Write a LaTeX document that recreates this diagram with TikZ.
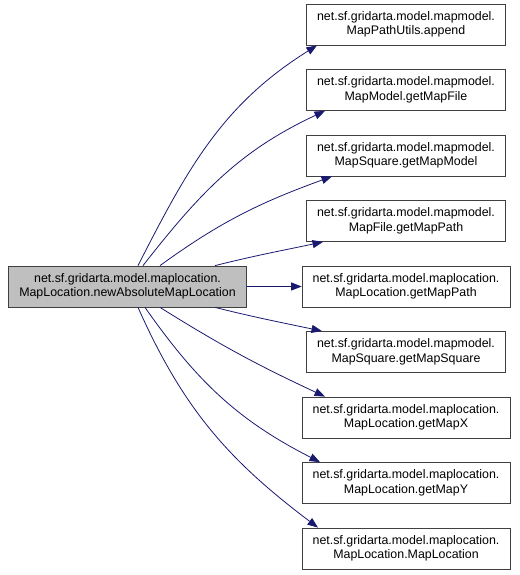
\documentclass[tikz,border=0pt]{standalone}
\usepackage{fontspec}
\setmainfont{Liberation Sans}
\usetikzlibrary{arrows.meta,positioning}
\definecolor{graphText}{HTML}{000000}
\definecolor{graphBorder}{HTML}{404040}
\definecolor{graphFocus}{HTML}{BFBFBF}
\definecolor{graphEdge}{HTML}{191970}
\newcommand{\callname}[2]{#1\\#2}

\begin{document}
\begin{tikzpicture}[
  x=1pt, y=-1pt,
  >={Triangle[length=10.5pt,width=8pt]},
  func/.style={
    draw=graphBorder,
    fill=white,
    text=graphText,
    align=center,
    minimum height=41pt,
    inner xsep=10.5pt,
    inner ysep=2pt,
    line width=0.8pt,
    font=\fontsize{12.4}{14.5}\selectfont
  },
  focus/.style={func, fill=graphFocus},
  call/.style={->, draw=graphEdge, line width=0.8pt}
]
\useasboundingbox (0,0) rectangle (519,575);

% The function whose call graph is shown.
\node[focus] (newabs) at (127.5,286.5)
  {\callname{net.sf.gridarta.model.maplocation.}{MapLocation.newAbsoluteMapLocation}};

% Called functions, one column.
\node[func] (append) at (406,24.5)
  {\callname{net.sf.gridarta.model.mapmodel.}{MapPathUtils.append}};
\node[func, below=23.7pt of append] (mapfile)
  {\callname{net.sf.gridarta.model.mapmodel.}{MapModel.getMapFile}};
\node[func, below=23.7pt of mapfile] (mapmodel)
  {\callname{net.sf.gridarta.model.mapmodel.}{MapSquare.getMapModel}};
\node[func, below=23.7pt of mapmodel] (filepath)
  {\callname{net.sf.gridarta.model.mapmodel.}{MapFile.getMapPath}};
\node[func, below=23.7pt of filepath] (locpath)
  {\callname{net.sf.gridarta.model.maplocation.}{MapLocation.getMapPath}};
\node[func, below=23.7pt of locpath] (mapsquare)
  {\callname{net.sf.gridarta.model.mapmodel.}{MapSquare.getMapSquare}};
\node[func, below=23.7pt of mapsquare] (mapx)
  {\callname{net.sf.gridarta.model.maplocation.}{MapLocation.getMapX}};
\node[func, below=23.7pt of mapx] (mapy)
  {\callname{net.sf.gridarta.model.maplocation.}{MapLocation.getMapY}};
\node[func, below=23.7pt of mapy] (ctor)
  {\callname{net.sf.gridarta.model.maplocation.}{MapLocation.MapLocation}};

% Calls leaving the top edge.
\draw[call] ([xshift=10.5pt]newabs.north) to[out=63,in=212] ([xshift=-89pt]append.south);
\draw[call] ([xshift=15.5pt]newabs.north) to[out=52,in=205] ([xshift=-81pt]mapfile.south);
\draw[call] ([xshift=32.5pt]newabs.north) to[out=36,in=200] ([xshift=-74pt]mapmodel.south);
\draw[call] ([xshift=87.5pt]newabs.north) to[out=14,in=192] ([xshift=-83pt]filepath.south);

% Straight call to the right.
\draw[call] (newabs.east) -- (locpath.west);

% Calls leaving the bottom edge.
\draw[call] ([xshift=87.5pt]newabs.south) to[out=-14,in=168] ([xshift=-84pt]mapsquare.north);
\draw[call] ([xshift=32.5pt]newabs.south) to[out=-32,in=155] ([xshift=-81pt]mapx.north);
\draw[call] ([xshift=17.5pt]newabs.south) to[out=-55,in=153] ([xshift=-86pt]mapy.north);
\draw[call] ([xshift=10.5pt]newabs.south) to[out=-66,in=143] ([xshift=-88pt]ctor.north);

\end{tikzpicture}
\end{document}
